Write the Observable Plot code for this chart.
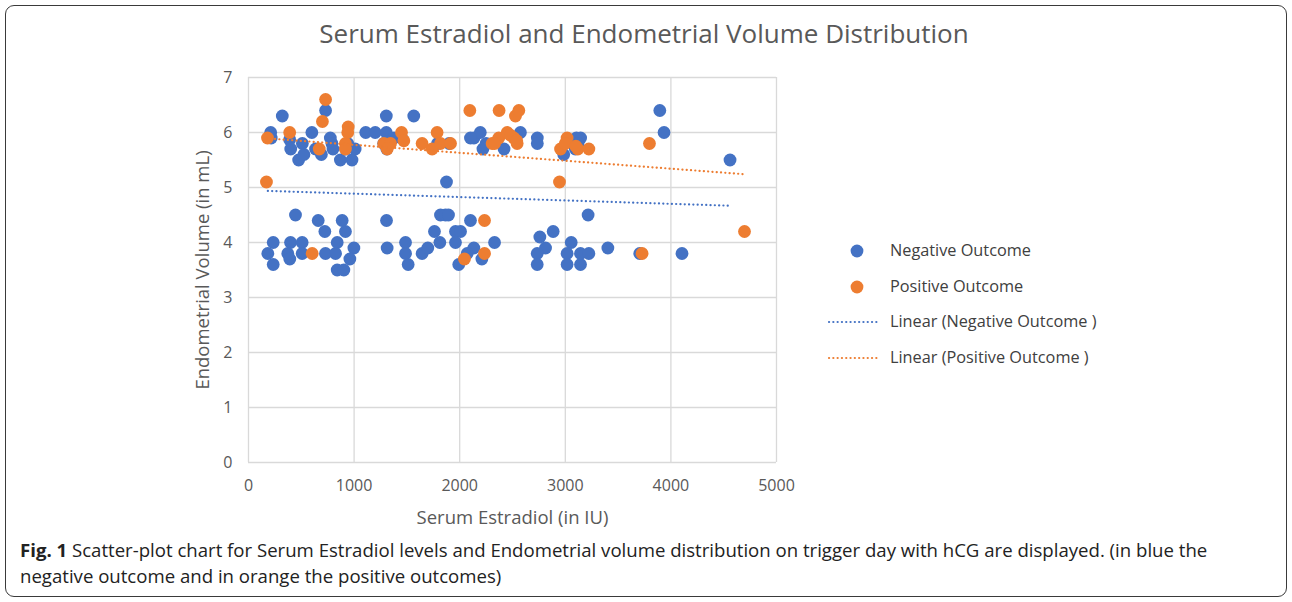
<!DOCTYPE html>
<html>
<head>
<meta charset="utf-8">
<script src="https://cdn.jsdelivr.net/npm/d3@7"></script>
<script src="https://cdn.jsdelivr.net/npm/@observablehq/plot@0.6"></script>
<style>
  html, body { margin: 0; padding: 0; background: #fff; }
  body { width: 1292px; height: 602px; position: relative; font-family: "Open Sans", sans-serif; overflow: hidden; }
  #frame { position: absolute; left: 5px; top: 5px; width: 1280px; height: 590px; border: 1px solid #3a3a3a; border-radius: 9px; }
  #title { position: absolute; left: 0; width: 1288px; top: 15px; text-align: center; font-size: 26px; color: #595959; }
  #chart { position: absolute; left: 0; top: 60px; }
  #legend { position: absolute; left: 820px; top: 236px; font-size: 16.3px; color: #404040; white-space: nowrap; }
  .li { position: relative; height: 35.7px; }
  .li svg { position: absolute; left: 0; top: 0; }
  .li span { position: absolute; left: 70px; top: 3px; }
  #caption { position: absolute; left: 20px; top: 537px; width: 1260px; font-size: 18.6px; line-height: 26px; color: #222; white-space: nowrap; }
</style>
</head>
<body>
<div id="frame"></div>
<div id="title">Serum Estradiol and Endometrial Volume Distribution</div>
<div id="chart"></div>
<div id="legend"></div>
<div id="caption"><b>Fig. 1</b> Scatter-plot chart for Serum Estradiol levels and Endometrial volume distribution on trigger day with hCG are displayed. (in blue the<br>negative outcome and in orange the positive outcomes)</div>
<script>
const seriesNames = ["Negative Outcome", "Positive Outcome"];
const trendNames = ["Linear (Negative Outcome )", "Linear (Positive Outcome )"];
const xTicks = [0, 1000, 2000, 3000, 4000, 5000];
const yTicks = [0, 1, 2, 3, 4, 5, 6, 7];

// Negative outcome (blue): upper cluster, lower cluster, and points partly hidden under other dots
const negX = [210,215,320,390,400,510,475,525,600,635,690,730,775,790,800,870,980,1010,1110,1200,1305,1305,1565,2135,2195,2220,2420,2575,2735,2735,2985,3105,3145,3095,3895,3935,4560,1875,
  445,660,887,723,918,234,398,508,840,183,372,508,729,824,998,391,234,960,840,903,1307,1313,1487,1487,1512,1644,1698,1761,1812,1818,1865,1894,1960,2008,1960,2102,2134,2071,1991,2210,2330,3216,2885,2759,2813,2734,2734,3056,3017,3017,3144,3223,3144,3403,3705,4105,
  1280,1340,1310,1450,940,920,1790,1900,1377,3120,2102,2250];
const negY = [6.0,5.9,6.3,5.87,5.7,5.8,5.5,5.6,6.0,5.7,5.6,6.4,5.9,5.8,5.7,5.5,5.5,5.7,6.0,6.0,6.3,6.0,6.3,5.9,6.0,5.7,5.7,6.0,5.9,5.8,5.6,5.9,5.9,5.7,6.4,6.0,5.5,5.1,
  4.5,4.4,4.4,4.2,4.2,4.0,4.0,4.0,4.0,3.8,3.8,3.8,3.8,3.8,3.9,3.7,3.6,3.7,3.5,3.5,4.4,3.9,4.0,3.8,3.6,3.8,3.9,4.2,4.0,4.5,4.5,4.5,4.2,4.2,4.0,4.4,3.9,3.8,3.6,3.7,4.0,4.5,4.2,4.1,3.9,3.8,3.6,4.0,3.8,3.6,3.8,3.8,3.6,3.9,3.8,3.8,
  5.8,5.85,5.7,5.9,5.8,5.7,5.8,5.8,5.9,5.8,5.9,5.8];

// Positive outcome (orange)
const posX = [180,170,390,670,700,730,918,918,944,940,1281,1345,1313,1449,1471,1644,1739,1786,1818,1913,2096,2373,2307,2370,2528,2560,2450,2513,2544,3017,2955,3119,3223,3797,2945,603,2235,2235,2045,3727,4697,
  2480,2540,3000,2330,3100];
const posY = [5.9,5.1,6.0,5.7,6.2,6.6,5.8,5.7,6.1,6.0,5.8,5.8,5.7,6.0,5.85,5.8,5.7,6.0,5.8,5.8,6.4,6.4,5.8,5.9,6.3,6.4,6.0,5.9,5.8,5.9,5.7,5.7,5.7,5.8,5.1,3.8,4.4,3.8,3.7,3.8,4.2,
  5.95,5.85,5.8,5.8,5.75];

const colors = ["#4472C4", "#ED7D31"];

const neg = negX.map((x, i) => ({x, y: negY[i], s: seriesNames[0]}));
const pos = posX.map((x, i) => ({x, y: posY[i], s: seriesNames[1]}));

const plot = Plot.plot({
  width: 1292,
  height: 475,
  marginLeft: 248,
  marginRight: 516,
  marginTop: 17,
  marginBottom: 73,
  style: { fontFamily: "Open Sans, sans-serif", fontSize: "16px", color: "#595959", background: "transparent", overflow: "visible" },
  x: { domain: [0, 5000], ticks: xTicks, tickFormat: d => String(d), label: null },
  y: { domain: [0, 7], ticks: yTicks, tickFormat: d => String(d), label: null },
  marks: [
    Plot.gridX(xTicks, { stroke: "#d9d9d9", strokeOpacity: 1, strokeWidth: 1.3 }),
    Plot.gridY(yTicks, { stroke: "#d9d9d9", strokeOpacity: 1, strokeWidth: 1.3 }),
    Plot.axisX({ ticks: xTicks, tickSize: 0, tickPadding: 17, fill: "#595959", tickFormat: d => String(d) }),
    Plot.axisY({ ticks: yTicks, tickSize: 0, tickPadding: 16, fill: "#595959", tickFormat: d => String(d) }),
    Plot.text(["Serum Estradiol (in IU)"], { frameAnchor: "bottom", dy: 61, fontSize: 18.5, fill: "#595959" }),
    Plot.text(["Endometrial Volume (in mL)"], { frameAnchor: "left", dx: -45, rotate: -90, textAnchor: "middle", fontSize: 18.5, fill: "#595959" }),
    Plot.dot(neg, { x: "x", y: "y", r: 6.4, fill: colors[0], stroke: "none" }),
    Plot.dot(pos, { x: "x", y: "y", r: 6.4, fill: colors[1], stroke: "none" }),
    Plot.linearRegressionY(neg, { x: "x", y: "y", stroke: colors[0], strokeWidth: 2.2, strokeDasharray: "0.1,4.2", strokeLinecap: "round", ci: 0 }),
    Plot.linearRegressionY(pos, { x: "x", y: "y", stroke: colors[1], strokeWidth: 2.2, strokeDasharray: "0.1,4.2", strokeLinecap: "round", ci: 0 })
  ]
});
document.getElementById("chart").appendChild(plot);

const legend = document.getElementById("legend");
const items = [
  { name: seriesNames[0], c: colors[0], dot: true },
  { name: seriesNames[1], c: colors[1], dot: true },
  { name: trendNames[0], c: colors[0], dot: false },
  { name: trendNames[1], c: colors[1], dot: false }
];
items.forEach(it => {
  const row = document.createElement("div");
  row.className = "li";
  const sym = it.dot
    ? `<svg width="70" height="30"><circle cx="37" cy="15" r="6.4" fill="${it.c}"/></svg>`
    : `<svg width="70" height="30"><line x1="9" x2="60" y1="15" y2="15" stroke="${it.c}" stroke-width="2.2" stroke-dasharray="0.1,4.2" stroke-linecap="round"/></svg>`;
  row.innerHTML = sym + `<span>${it.name}</span>`;
  legend.appendChild(row);
});
</script>
</body>
</html>
